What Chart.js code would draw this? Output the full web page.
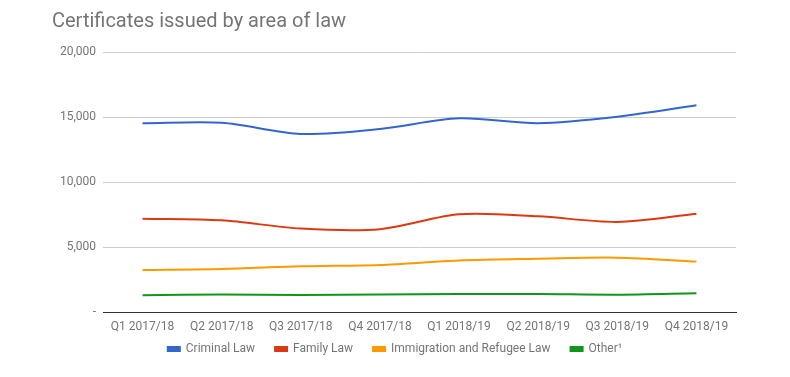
<!DOCTYPE html>
<html>
<head>
<meta charset="utf-8">
<script src="https://cdn.jsdelivr.net/npm/chart.js@4"></script>
<style>
  html, body { margin: 0; padding: 0; background: #fff; }
  canvas { display: block; }
</style>
</head>
<body>
<canvas id="lawChart" width="790" height="377"></canvas>
<script>
const quarters = ['Q1 2017/18', 'Q2 2017/18', 'Q3 2017/18', 'Q4 2017/18', 'Q1 2018/19', 'Q2 2018/19', 'Q3 2018/19', 'Q4 2018/19'];
const criminalLaw = [14520, 14560, 13700, 14080, 14900, 14520, 15020, 15900];
const familyLaw = [7180, 7050, 6420, 6370, 7510, 7360, 6930, 7560];
const immigrationLaw = [3240, 3310, 3510, 3620, 3970, 4100, 4180, 3880];
const otherLaw = [1290, 1350, 1310, 1340, 1380, 1380, 1330, 1440];
const yTicks = [0, 5000, 10000, 15000, 20000];

const fontFamily = 'Roboto, "Noto Sans", sans-serif';

// title drawn at a fixed left position like the original
const titlePlugin = {
  id: 'leftTitle',
  afterLayout(chart) {
    // let x labels overflow their box, centre the legend on the page
    chart.scales.x.bottom = chart.height;
    const lg = chart.legend;
    lg.left = 0;
    lg.right = chart.width;
    lg.width = chart.width;
    lg.top = 323;
    lg.bottom = lg.top + lg.height;
  },
  afterDraw(chart) {
    const ctx = chart.ctx;
    ctx.save();
    ctx.font = '20px ' + fontFamily;
    ctx.fillStyle = '#757575';
    ctx.textBaseline = 'middle';
    ctx.fillText('Certificates issued by area of law', 52, 22);
    ctx.restore();
  }
};

function series(label, values, color) {
  return {
    label: label,
    data: values,
    borderColor: color,
    backgroundColor: color,
    borderWidth: 2,
    pointRadius: 0,
    pointHoverRadius: 0,
    tension: 0.3,
    fill: false
  };
}

const ctx = document.getElementById('lawChart').getContext('2d');
new Chart(ctx, {
  type: 'line',
  data: {
    labels: quarters,
    datasets: [
      series('Criminal Law', criminalLaw, '#3366cc'),
      series('Family Law', familyLaw, '#dc3912'),
      series('Immigration and Refugee Law', immigrationLaw, '#ff9900'),
      series('Other¹', otherLaw, '#109618')
    ]
  },
  options: {
    responsive: false,
    animation: false,
    layout: {
      padding: { left: 0, right: 54, top: 52, bottom: 9 }
    },
    plugins: {
      legend: {
        position: 'bottom',
        labels: {
          boxWidth: 12,
          boxHeight: 4,
          padding: 20,
          color: '#757575',
          font: { family: fontFamily, size: 12 }
        }
      },
      tooltip: { enabled: false }
    },
    scales: {
      x: {
        offset: true,
        grid: { display: false },
        border: { display: true, color: '#333', width: 1 },
        ticks: {
          color: '#757575',
          padding: 0,
          maxRotation: 0,
          autoSkip: false,
          font: { family: fontFamily, size: 12 }
        },
        afterFit(scale) { scale.height = 14; }
      },
      y: {
        min: 0,
        max: 20000,
        afterBuildTicks(scale) {
          scale.ticks = yTicks.map(v => ({ value: v }));
        },
        grid: { color: '#cccccc', drawTicks: false },
        border: { display: false },
        ticks: {
          color: '#757575',
          padding: 7,
          font: { family: fontFamily, size: 12 },
          callback: v => v === 0 ? '-' : v.toLocaleString('en-US')
        },
        afterFit(scale) { scale.width = 103; }
      }
    }
  },
  plugins: [titlePlugin]
});
</script>
</body>
</html>
